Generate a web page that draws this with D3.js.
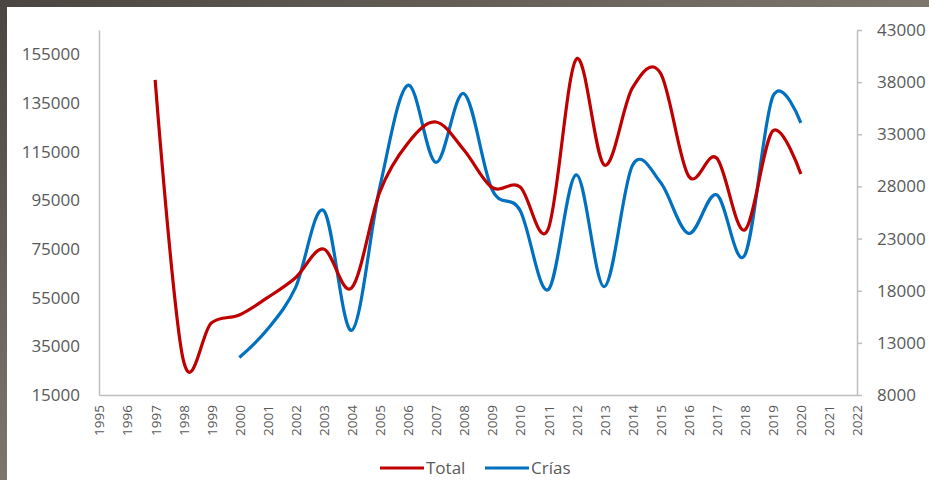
<!DOCTYPE html>
<meta charset="utf-8">
<script src="https://d3js.org/d3.v7.min.js"></script>
<style>
  body { margin: 0; background: #6b645c; }
  text { font-family: "Open Sans", sans-serif; fill: #595959; }
</style>
<div id="chart"></div>
<script>
// data
var years = d3.range(1995, 2023);
var totalYears = d3.range(1997, 2021);
var totalValues = [144500, 29500, 44600, 47900, 55000, 63200, 75000, 59000, 98400, 118500,
                   127200, 115700, 100300, 100500, 83200, 153000, 109500, 141200, 147300,
                   105000, 112400, 82800, 123500, 105800];
var criasYears = d3.range(2000, 2021);
var criasValues = [11600, 14300, 18300, 25700, 14200, 27900, 37700, 30300, 36900, 27700,
                   25700, 18100, 29100, 18400, 30000, 28400, 23500, 27200, 21400, 36600, 34100];
var leftTicks = [15000, 35000, 55000, 75000, 95000, 115000, 135000, 155000];
var rightTicks = [8000, 13000, 18000, 23000, 28000, 33000, 38000, 43000];

var W = 929, H = 480;
var margin = {top: 30, right: 72, bottom: 85, left: 99};

var svg = d3.select("#chart").append("svg")
    .attr("width", W)
    .attr("height", H);

// photo-like frame behind the chart
var grad = svg.append("defs").append("linearGradient")
    .attr("id", "bg").attr("x1", 0).attr("y1", 0).attr("x2", 1).attr("y2", 1);
grad.append("stop").attr("offset", "0%").attr("stop-color", "#4a4540");
grad.append("stop").attr("offset", "50%").attr("stop-color", "#7d766d");
grad.append("stop").attr("offset", "100%").attr("stop-color", "#8c857b");
svg.append("rect").attr("width", W).attr("height", H).attr("fill", "url(#bg)");
svg.append("rect").attr("x", 7).attr("y", 7).attr("width", W - 7).attr("height", H - 7)
    .attr("fill", "#ffffff");

var x = d3.scalePoint()
    .domain(years)
    .range([margin.left, W - margin.right]);

var yL = d3.scaleLinear()
    .domain([15000, 165000])
    .range([H - margin.bottom, margin.top]);

var yR = d3.scaleLinear()
    .domain([8000, 43000])
    .range([H - margin.bottom, margin.top]);

// left axis (no ticks)
var gL = svg.append("g")
    .attr("transform", "translate(" + margin.left + ",0)")
    .call(d3.axisLeft(yL).tickValues(leftTicks).tickSize(0).tickPadding(19).tickFormat(d3.format("d")));
gL.select(".domain").attr("stroke", "#bfbfbf").attr("stroke-width", 1.5);
gL.selectAll("text").style("font-size", "17px");

// right axis with outer ticks
var gR = svg.append("g")
    .attr("transform", "translate(" + (W - margin.right) + ",0)")
    .call(d3.axisRight(yR).tickValues(rightTicks).tickSize(5).tickSizeOuter(0).tickPadding(15).tickFormat(d3.format("d")));
gR.select(".domain").attr("stroke", "#bfbfbf").attr("stroke-width", 1.5);
gR.selectAll(".tick line").attr("stroke", "#bfbfbf").attr("stroke-width", 1.5);
gR.selectAll("text").style("font-size", "17px");

// bottom axis, rotated year labels
var gX = svg.append("g")
    .attr("transform", "translate(0," + (H - margin.bottom) + ")")
    .call(d3.axisBottom(x).tickSize(0).tickSizeOuter(0));
gX.select(".domain").attr("stroke", "#bfbfbf").attr("stroke-width", 1.5);
gX.selectAll("text")
    .style("font-size", "13.5px")
    .attr("transform", "rotate(-90)")
    .attr("text-anchor", "end")
    .attr("x", -10)
    .attr("y", 0)
    .attr("dy", "0.36em");

// smoothed lines
var lineTotal = d3.line()
    .x(function(d, i) { return x(totalYears[i]); })
    .y(function(d) { return yL(d); })
    .curve(d3.curveCatmullRom.alpha(0));

var lineCrias = d3.line()
    .x(function(d, i) { return x(criasYears[i]); })
    .y(function(d) { return yR(d); })
    .curve(d3.curveCatmullRom.alpha(0));

svg.append("path")
    .datum(criasValues)
    .attr("d", lineCrias)
    .attr("fill", "none")
    .attr("stroke", "#0070c0")
    .attr("stroke-width", 3.2);

svg.append("path")
    .datum(totalValues)
    .attr("d", lineTotal)
    .attr("fill", "none")
    .attr("stroke", "#c00000")
    .attr("stroke-width", 3.2);

// legend
var legend = [
  {name: "Total", color: "#c00000", x: 380},
  {name: "Crías", color: "#0070c0", x: 485}
];
var lg = svg.selectAll(".legend")
    .data(legend)
    .enter().append("g")
    .attr("class", "legend")
    .attr("transform", function(d) { return "translate(" + d.x + ",468)"; });
lg.append("line")
    .attr("x1", 0).attr("x2", 44)
    .attr("stroke", function(d) { return d.color; })
    .attr("stroke-width", 3.2);
lg.append("text")
    .attr("x", 46)
    .attr("dy", "0.36em")
    .style("font-size", "17px")
    .text(function(d) { return d.name; });
</script>
